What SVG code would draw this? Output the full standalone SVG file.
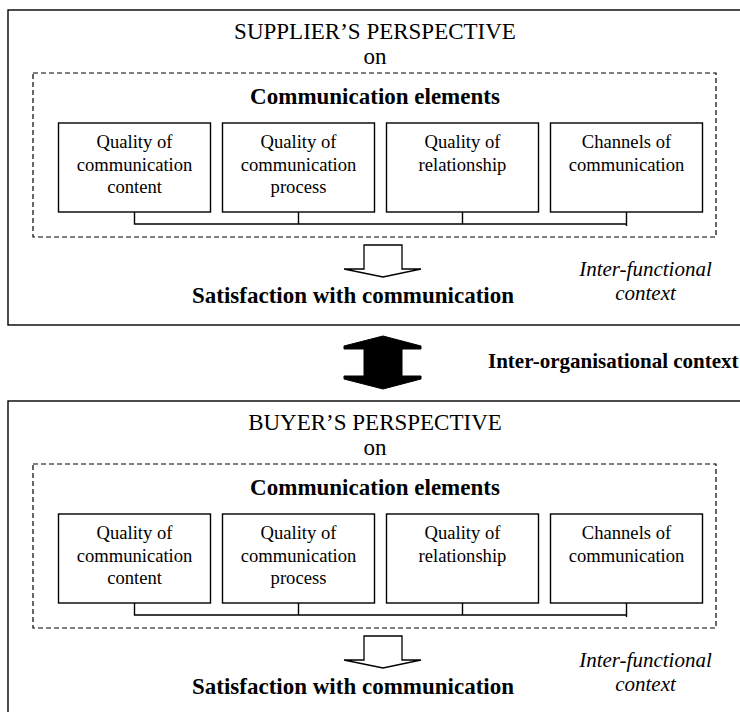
<svg xmlns="http://www.w3.org/2000/svg" width="740" height="712" viewBox="0 0 740 712">
  <style>
    .frame { fill: none; stroke: #000; stroke-width: 1.4; }
    .dash { fill: none; stroke: #000; stroke-width: 1.2; stroke-dasharray: 5 3; }
    .box { fill: #fff; stroke: #000; stroke-width: 1.4; }
    .wire { fill: none; stroke: #000; stroke-width: 1.4; }
    .open-arrow { fill: #fff; stroke: #000; stroke-width: 1.3; stroke-linejoin: miter; }
    .solid-arrow { fill: #000; stroke: #000; stroke-width: 1; }
    text { font-family: "Liberation Serif", "Times New Roman", serif; fill: #000; text-anchor: middle; }
    .title { font-size: 23px; }
    .head { font-size: 23px; font-weight: bold; }
    .item { font-size: 18.6px; }
    .ctx { font-size: 21px; font-style: italic; }
    .org { font-size: 21px; font-weight: bold; text-anchor: start; }
  </style>
  <defs>
    <!-- one perspective panel; reused for supplier and buyer -->
    <path id="down-arrow" class="open-arrow" d="M364,245 L402,245 L402,269 L421,269 L383,277 L344,269 L364,269 Z"/>
  </defs>

  <!-- Supplier panel -->
  <g id="supplier-panel">
    <rect class="frame" x="8" y="10" width="740" height="315"/>
    <text class="title" x="375" y="39">SUPPLIER’S PERSPECTIVE</text>
    <text class="title" x="375" y="64">on</text>
    <g id="supplier-elements">
      <rect class="dash" x="33" y="73" width="683" height="164"/>
      <text class="head" x="375" y="104">Communication elements</text>
    </g>
    <g id="supplier-content">
      <rect class="box" x="58.5" y="123" width="152" height="89"/>
      <text class="item" x="134.5" y="148">Quality of</text>
      <text class="item" x="134.5" y="171">communication</text>
      <text class="item" x="134.5" y="193">content</text>
    </g>
    <g id="supplier-process">
      <rect class="box" x="222.5" y="123" width="152" height="89"/>
      <text class="item" x="298.5" y="148">Quality of</text>
      <text class="item" x="298.5" y="171">communication</text>
      <text class="item" x="298.5" y="193">process</text>
    </g>
    <g id="supplier-relationship">
      <rect class="box" x="386.5" y="123" width="152" height="89"/>
      <text class="item" x="462.5" y="148">Quality of</text>
      <text class="item" x="462.5" y="171">relationship</text>
    </g>
    <g id="supplier-channels">
      <rect class="box" x="550.5" y="123" width="152" height="89"/>
      <text class="item" x="626.5" y="148">Channels of</text>
      <text class="item" x="626.5" y="171">communication</text>
    </g>
    <g id="supplier-satisfaction">
      <use href="#down-arrow"/>
      <text class="head" x="353" y="303">Satisfaction with communication</text>
    </g>
    <g id="supplier-context">
      <text class="ctx" x="645.5" y="276">Inter-functional</text>
      <text class="ctx" x="645.5" y="300">context</text>
    </g>
  </g>

  <!-- Buyer panel -->
  <g id="buyer-panel">
    <rect class="frame" x="8" y="401" width="740" height="320"/>
    <text class="title" x="375" y="430">BUYER’S PERSPECTIVE</text>
    <text class="title" x="375" y="455">on</text>
    <g id="buyer-elements">
      <rect class="dash" x="33" y="464" width="683" height="164"/>
      <text class="head" x="375" y="495">Communication elements</text>
    </g>
    <g id="buyer-content">
      <rect class="box" x="58.5" y="514" width="152" height="89"/>
      <text class="item" x="134.5" y="539">Quality of</text>
      <text class="item" x="134.5" y="562">communication</text>
      <text class="item" x="134.5" y="584">content</text>
    </g>
    <g id="buyer-process">
      <rect class="box" x="222.5" y="514" width="152" height="89"/>
      <text class="item" x="298.5" y="539">Quality of</text>
      <text class="item" x="298.5" y="562">communication</text>
      <text class="item" x="298.5" y="584">process</text>
    </g>
    <g id="buyer-relationship">
      <rect class="box" x="386.5" y="514" width="152" height="89"/>
      <text class="item" x="462.5" y="539">Quality of</text>
      <text class="item" x="462.5" y="562">relationship</text>
    </g>
    <g id="buyer-channels">
      <rect class="box" x="550.5" y="514" width="152" height="89"/>
      <text class="item" x="626.5" y="539">Channels of</text>
      <text class="item" x="626.5" y="562">communication</text>
    </g>
    <g id="buyer-satisfaction">
      <use href="#down-arrow" transform="translate(0,391)"/>
      <text class="head" x="353" y="694">Satisfaction with communication</text>
    </g>
    <g id="buyer-context">
      <text class="ctx" x="645.5" y="667">Inter-functional</text>
      <text class="ctx" x="645.5" y="691">context</text>
    </g>
  </g>

  <!-- Two-way link between the perspectives -->
  <g id="inter-organisational">
    <path class="solid-arrow" d="M383,336 L421,346 L421,349 L402,349 L402,376 L421,376 L421,379 L383,389 L344,379 L344,376 L364,376 L364,349 L344,349 L344,346 Z"/>
    <text class="org" x="488" y="368">Inter-organisational context</text>
  </g>

  <!-- Bus lines joining the four element boxes -->
  <g id="connectors">
    <path class="wire" d="M134.5,212 V224 H626.5 V226 M298.5,212 V224 M462.5,212 V224 M626.5,212 V224"/>
    <path class="wire" d="M134.5,603 V615 H626.5 V617 M298.5,603 V615 M462.5,603 V615 M626.5,603 V615"/>
  </g>
</svg>
